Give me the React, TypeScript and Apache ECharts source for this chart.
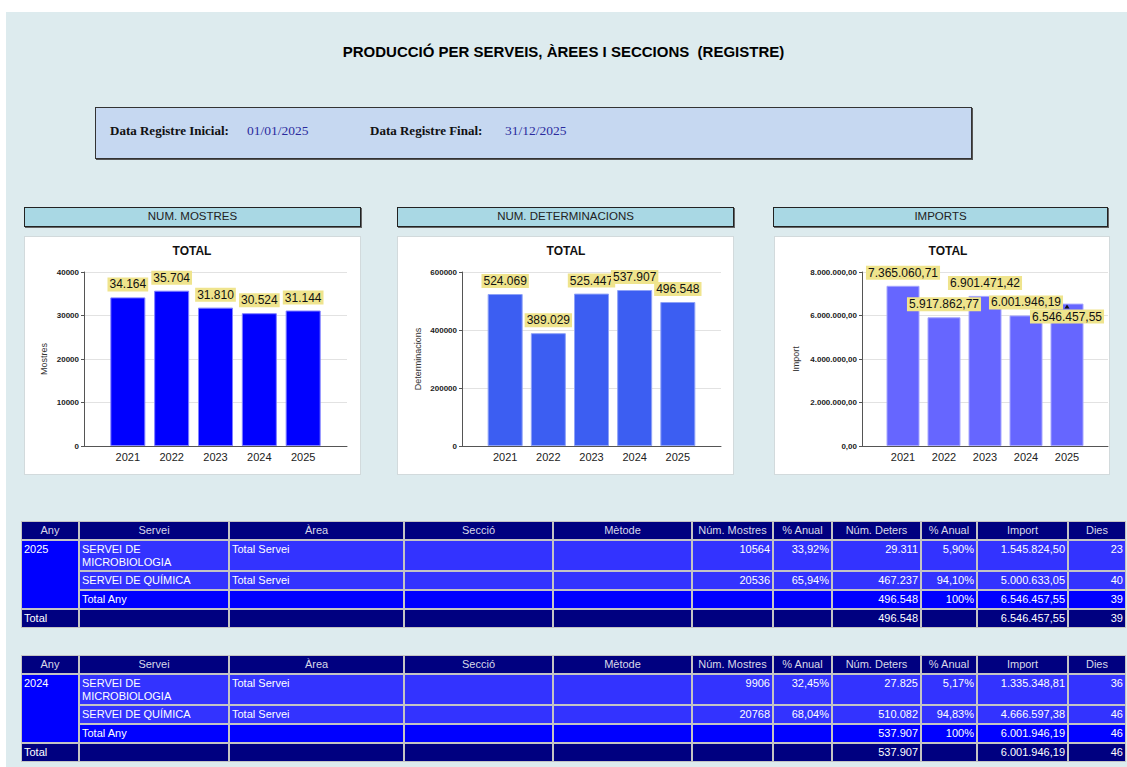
import React, { useEffect, useRef } from 'react';
import * as echarts from 'echarts';

// ---------- DATA ----------
const years = ['2021', '2022', '2023', '2024', '2025'];
const mostres = [34164, 35704, 31810, 30524, 31144];
const determinacions = [524069, 389029, 525447, 537907, 496548];
const imports = [7365060.71, 5917862.77, 6901471.42, 6001946.19, 6546457.55];

const tableHeaders = ['Any', 'Servei', 'Àrea', 'Secció', 'Mètode', 'Núm. Mostres', '% Anual', 'Núm. Deters', '% Anual', 'Import', 'Dies'];

const rows2025 = [
  ['SERVEI DE MICROBIOLOGIA', 'Total Servei', '', '', '10564', '33,92%', '29.311', '5,90%', '1.545.824,50', '23'],
  ['SERVEI DE QUÍMICA', 'Total Servei', '', '', '20536', '65,94%', '467.237', '94,10%', '5.000.633,05', '40'],
];
const totalAny2025 = ['Total Any', '', '', '', '', '', '496.548', '100%', '6.546.457,55', '39'];
const total2025 = ['Total', '', '', '', '', '', '', '496.548', '', '6.546.457,55', '39'];

const rows2024 = [
  ['SERVEI DE MICROBIOLOGIA', 'Total Servei', '', '', '9906', '32,45%', '27.825', '5,17%', '1.335.348,81', '36'],
  ['SERVEI DE QUÍMICA', 'Total Servei', '', '', '20768', '68,04%', '510.082', '94,83%', '4.666.597,38', '46'],
];
const totalAny2024 = ['Total Any', '', '', '', '', '', '537.907', '100%', '6.001.946,19', '46'];
const total2024 = ['Total', '', '', '', '', '', '', '537.907', '', '6.001.946,19', '46'];

// ---------- HELPERS ----------
function fmt(n: number, decimals = 0): string {
  const fixed = n.toFixed(decimals);
  const [i, d] = fixed.split('.');
  const dotted = i.replace(/\B(?=(\d{3})+(?!\d))/g, '.');
  return d ? dotted + ',' + d : dotted;
}

const SANS = '"Liberation Sans", Arial, sans-serif';
const SERIF = '"Liberation Serif", "Times New Roman", serif';

const colEdges = [21, 79, 229, 404, 553, 692, 773, 832, 921, 977, 1068, 1126];
const rowOffsets = [0, 19, 50, 69, 88, 107];

type Cell = { c0: number; c1: number; r0: number; r1: number; text: string; bg: string; align: 'left' | 'right' | 'center'; color: string };

function Table({ top, year, rows, totalAny, total }: { top: number; year: string; rows: string[][]; totalAny: string[]; total: string[] }) {
  const cells: Cell[] = [];
  tableHeaders.forEach((h, i) => cells.push({ c0: i, c1: i + 1, r0: 0, r1: 1, text: h, bg: '#000080', align: 'center', color: '#d8d8e8' }));
  cells.push({ c0: 0, c1: 1, r0: 1, r1: 4, text: year, bg: '#0000ff', align: 'left', color: '#ffffff' });
  rows.forEach((r, ri) => r.forEach((t, ci) => cells.push({ c0: ci + 1, c1: ci + 2, r0: ri + 1, r1: ri + 2, text: t, bg: '#3333ff', align: ci >= 4 ? 'right' : 'left', color: '#ffffff' })));
  totalAny.forEach((t, ci) => cells.push({ c0: ci + 1, c1: ci + 2, r0: 3, r1: 4, text: t, bg: '#0000ff', align: ci >= 4 ? 'right' : 'left', color: '#ffffff' }));
  total.forEach((t, ci) => cells.push({ c0: ci, c1: ci + 1, r0: 4, r1: 5, text: t, bg: '#000080', align: ci >= 5 ? 'right' : 'left', color: '#ffffff' }));
  const x0 = colEdges[0];
  return (
    <div style={{ position: 'absolute', left: x0, top, width: colEdges[colEdges.length - 1] - x0, height: rowOffsets[5], background: '#c4c4c4', zIndex: 2 }}>
      {cells.map((c, k) => (
        <div key={k} style={{
          position: 'absolute',
          left: colEdges[c.c0] - x0 + 1,
          width: colEdges[c.c1] - colEdges[c.c0] - 2,
          top: rowOffsets[c.r0] + 1,
          height: rowOffsets[c.r1] - rowOffsets[c.r0] - 2,
          background: c.bg,
          color: c.color,
          fontFamily: SANS,
          fontSize: 11,
          lineHeight: '13px',
          paddingTop: 2,
          paddingLeft: 2,
          paddingRight: 2,
          boxSizing: 'border-box',
          textAlign: c.align,
          overflow: 'hidden',
        }}>{c.text}</div>
      ))}
    </div>
  );
}

export default function App() {
  const ref = useRef<HTMLDivElement>(null);

  useEffect(() => {
    document.body.style.margin = '0';
    const chart = echarts.init(ref.current!, null, { renderer: 'svg' });
    const cats = ['', ...years, ''];
    const pad = (arr: any[]) => [null, ...arr, null];

    const grids = [
      { left: 84, top: 272, width: 263, height: 174 },
      { left: 462, top: 272, width: 259, height: 174 },
      { left: 862, top: 272, width: 246, height: 174 },
    ];
    const titlesX = [192, 566, 948];
    const yNames = ['Mostres', 'Determinacions', 'Import'];
    const yMax = [40000, 600000, 8000000];
    const yInterval = [10000, 200000, 2000000];
    const yGap = [36, 40, 62];
    const yFormat = [(v: number) => String(v), (v: number) => String(v), (v: number) => fmt(v, 2)];
    const barColors = ['#0000ff', '#3c5ef2', '#6666ff'];
    const barBorders = ['#7f7fff', '#8ea2f7', '#a6a6ff'];
    const barWidths = [35, 35, 33];
    const labelFmt = [(v: number) => fmt(v), (v: number) => fmt(v), (v: number) => fmt(v, 2)];

    const importData = imports.map((v, i) => (i === 4 ? { value: v, label: { offset: [0, 26] } } : v));
    const seriesData = [mostres, determinacions, importData];

    const option: any = {
      animation: false,
      title: titlesX.map((x) => ({
        text: 'TOTAL', left: x, top: 245, textAlign: 'center', padding: 0,
        textStyle: { fontSize: 12, fontWeight: 'bold', color: '#111', fontFamily: SANS },
      })),
      grid: grids,
      xAxis: grids.map((_, i) => ({
        gridIndex: i, type: 'category', data: cats, boundaryGap: false,
        axisTick: { show: false },
        axisLine: { lineStyle: { color: '#555', width: 1 } },
        axisLabel: { interval: 0, fontSize: 11, color: '#222', margin: 5, fontFamily: SANS },
        splitLine: { show: false },
      })),
      yAxis: grids.map((_, i) => ({
        gridIndex: i, type: 'value', min: 0, max: yMax[i], interval: yInterval[i],
        name: yNames[i], nameLocation: 'middle', nameRotate: 90, nameGap: yGap[i],
        nameTextStyle: { fontSize: 9, color: '#333', fontFamily: SANS },
        axisLine: { show: true, lineStyle: { color: '#555', width: 1 } },
        axisTick: { show: true, length: 3, lineStyle: { color: '#555' } },
        axisLabel: { fontSize: 8, fontWeight: 'bold', color: '#222', margin: 5, fontFamily: SANS, formatter: yFormat[i] },
        splitLine: { show: true, lineStyle: { color: '#e2e2e2', width: 1 } },
      })),
      series: grids.map((_, i) => ({
        type: 'bar', xAxisIndex: i, yAxisIndex: i, barWidth: barWidths[i],
        data: pad(seriesData[i] as any[]),
        itemStyle: { color: barColors[i], borderColor: barBorders[i], borderWidth: 1 },
        label: {
          show: true, position: 'top', distance: 6,
          formatter: (p: any) => labelFmt[i](p.value),
          backgroundColor: '#efe48d', padding: [1, 2], fontSize: 12, color: '#111', fontFamily: SANS,
        },
        ...(i === 2 ? {
          markPoint: {
            symbol: 'triangle', symbolSize: [5, 4], silent: true,
            itemStyle: { color: '#111' }, label: { show: false },
            data: [{ coord: ['2025', imports[4]], symbolOffset: [0, 3] }],
          },
        } : {}),
      })),
    };
    chart.setOption(option);
    return () => chart.dispose();
  }, []);

  const headerBoxes = [
    { x0: 24, x1: 361, text: 'NUM. MOSTRES' },
    { x0: 397, x1: 734, text: 'NUM. DETERMINACIONS' },
    { x0: 773, x1: 1108, text: 'IMPORTS' },
  ];
  const panels = [
    { x0: 24, x1: 361 },
    { x0: 397, x1: 734 },
    { x0: 774, x1: 1110 },
  ];

  return (
    <div style={{ position: 'absolute', left: 0, top: 0, width: 1127, height: 767, overflow: 'hidden', background: '#ffffff', fontFamily: SANS }}>
      <div style={{ position: 'absolute', left: 6, top: 12, width: 1121, height: 755, background: '#ddebee' }} />
      <div style={{ position: 'absolute', left: 0, width: 1127, top: 42, textAlign: 'center', fontFamily: SANS, fontWeight: 'bold', fontSize: 15, lineHeight: '20px', color: '#000' }}>
        PRODUCCIÓ PER SERVEIS, ÀREES I SECCIONS&nbsp; (REGISTRE)
      </div>
      <div style={{ position: 'absolute', left: 95, top: 107, width: 877, height: 52, boxSizing: 'border-box', background: '#c6d8f1', border: '1px solid #333', boxShadow: '1px 1px 0 #555' }} />
      <div style={{ position: 'absolute', left: 110, top: 123, fontFamily: SERIF, fontWeight: 'bold', fontSize: 13, lineHeight: '16px', color: '#111' }}>Data Registre Inicial:</div>
      <div style={{ position: 'absolute', left: 247, top: 123, fontFamily: SERIF, fontSize: 13.5, lineHeight: '16px', color: '#2b2b9e' }}>01/01/2025</div>
      <div style={{ position: 'absolute', left: 370, top: 123, fontFamily: SERIF, fontWeight: 'bold', fontSize: 13, lineHeight: '16px', color: '#111' }}>Data Registre Final:</div>
      <div style={{ position: 'absolute', left: 505, top: 123, fontFamily: SERIF, fontSize: 13.5, lineHeight: '16px', color: '#2b2b9e' }}>31/12/2025</div>
      {headerBoxes.map((h, i) => (
        <div key={'h' + i} style={{ position: 'absolute', left: h.x0, top: 207, width: h.x1 - h.x0, height: 20, boxSizing: 'border-box', background: '#a9d8e4', border: '1px solid #222', boxShadow: '1px 1px 0 #666', textAlign: 'center', fontSize: 11.5, lineHeight: '17px', color: '#222' }}>{h.text}</div>
      ))}
      {panels.map((p, i) => (
        <div key={'p' + i} style={{ position: 'absolute', left: p.x0, top: 236, width: p.x1 - p.x0, height: 239, boxSizing: 'border-box', background: '#ffffff', border: '1px solid #d2dadc' }} />
      ))}
      <div ref={ref} style={{ position: 'absolute', left: 0, top: 0, width: 1127, height: 480, zIndex: 1 }} />
      <Table top={521} year="2025" rows={rows2025} totalAny={totalAny2025} total={total2025} />
      <Table top={655} year="2024" rows={rows2024} totalAny={totalAny2024} total={total2024} />
    </div>
  );
}
